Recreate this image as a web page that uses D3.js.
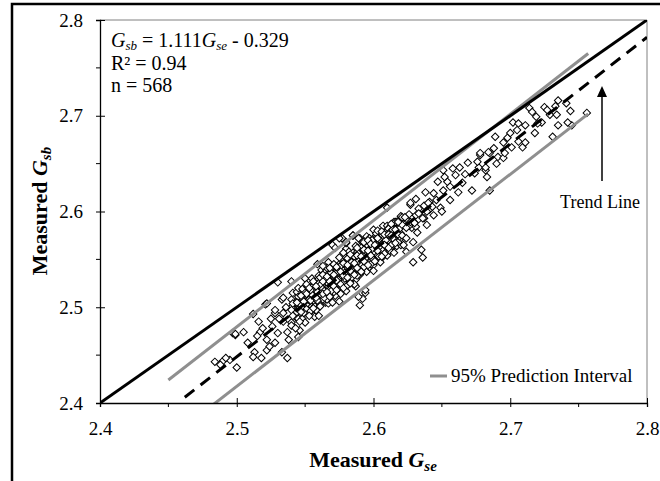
<!DOCTYPE html>
<html>
<head>
<meta charset="utf-8">
<script src="https://cdn.jsdelivr.net/npm/d3@7"></script>
<style>
body { margin: 0; background: #fff; }
text { font-family: "Liberation Serif", "Times New Roman", serif; fill: #000; }
</style>
</head>
<body>
<script>
let w = 660;
let h = 481;

// axis ticks
const xTicks = [2.4, 2.5, 2.6, 2.7, 2.8];
const yTicks = [2.4, 2.5, 2.6, 2.7, 2.8];
const minorTicks = [2.45, 2.55, 2.65, 2.75];

// lines
const unityLine = [2.4, 2.8];
const trendGse = [2.462, 2.8];
const trendGsb = [2.406, 2.782];
const piGse = [2.45, 2.757];
const piUpper = [2.424, 2.765];
const piLower = [2.362, 2.702];

// measured points [Gse, Gsb]
const lowEnd = [
    [2.484,2.443],[2.490,2.444],[2.495,2.445],[2.500,2.437],[2.497,2.473],[2.499,2.471],
    [2.505,2.474],[2.488,2.440],[2.492,2.447]
];
const lowMid = [
    [2.521,2.503],[2.533,2.508],[2.528,2.494],[2.512,2.493],[2.516,2.485],[2.525,2.488],
    [2.526,2.480],[2.534,2.485],[2.540,2.484],[2.543,2.497],[2.541,2.515],[2.499,2.472],
    [2.517,2.474],[2.530,2.473],[2.537,2.474],[2.508,2.463],[2.513,2.453],[2.518,2.447],
    [2.522,2.466],[2.528,2.463],[2.533,2.453],[2.537,2.447],[2.522,2.455],[2.512,2.448],
    [2.545,2.469],[2.546,2.476],[2.545,2.504],[2.540,2.500],[2.530,2.526],[2.540,2.527],
    [2.534,2.510],[2.544,2.516],[2.522,2.504],[2.528,2.497],[2.534,2.494],[2.515,2.470],
    [2.519,2.478],[2.531,2.488],[2.536,2.500],[2.538,2.466],[2.524,2.459]
];
const core = [
    [2.540,2.481],[2.540,2.497],[2.540,2.508],
    [2.543,2.490],[2.543,2.505],[2.543,2.478],
    [2.545,2.498],[2.545,2.488],[2.545,2.511],[2.545,2.520],
    [2.548,2.499],[2.548,2.508],[2.548,2.488],[2.548,2.519],
    [2.550,2.506],[2.550,2.496],[2.550,2.515],[2.550,2.484],[2.550,2.530],
    [2.552,2.501],[2.552,2.514],[2.552,2.493],[2.552,2.521],
    [2.555,2.513],[2.555,2.501],[2.555,2.522],[2.555,2.493],[2.555,2.530],
    [2.557,2.510],[2.557,2.519],[2.557,2.501],[2.557,2.526],[2.557,2.490],
    [2.560,2.516],[2.560,2.509],[2.560,2.525],[2.560,2.500],[2.560,2.533],[2.560,2.491],
    [2.562,2.513],[2.562,2.522],[2.562,2.505],[2.562,2.530],[2.562,2.539],
    [2.565,2.523],[2.565,2.513],[2.565,2.530],[2.565,2.505],[2.565,2.537],[2.565,2.518],
    [2.567,2.522],[2.567,2.529],[2.567,2.513],[2.567,2.535],[2.567,2.504],[2.567,2.547],
    [2.570,2.529],[2.570,2.521],[2.570,2.536],[2.570,2.513],[2.570,2.542],[2.570,2.505],[2.570,2.565],
    [2.572,2.526],[2.572,2.536],[2.572,2.520],[2.572,2.543],[2.572,2.512],[2.572,2.530],
    [2.575,2.532],[2.575,2.540],[2.575,2.525],[2.575,2.545],[2.575,2.518],[2.575,2.552],[2.575,2.506],
    [2.577,2.532],[2.577,2.539],[2.577,2.523],[2.577,2.545],[2.577,2.516],[2.577,2.572],
    [2.580,2.539],[2.580,2.531],[2.580,2.546],[2.580,2.525],[2.580,2.552],[2.580,2.517],[2.580,2.561],[2.580,2.567],
    [2.582,2.536],[2.582,2.544],[2.582,2.531],[2.582,2.552],[2.582,2.525],[2.582,2.558],
    [2.585,2.544],[2.585,2.536],[2.585,2.551],[2.585,2.531],[2.585,2.557],[2.585,2.525],[2.585,2.575],
    [2.587,2.543],[2.587,2.551],[2.587,2.535],[2.587,2.556],[2.587,2.529],[2.587,2.564],[2.587,2.522],
    [2.590,2.552],[2.590,2.545],[2.590,2.558],[2.590,2.538],[2.590,2.563],[2.590,2.534],[2.590,2.572],
    [2.592,2.550],[2.592,2.556],[2.592,2.543],[2.592,2.561],[2.592,2.538],[2.592,2.568],
    [2.595,2.556],[2.595,2.548],[2.595,2.562],[2.595,2.543],[2.595,2.567],[2.595,2.537],[2.595,2.574],
    [2.597,2.553],[2.597,2.560],[2.597,2.547],[2.597,2.566],[2.597,2.542],[2.597,2.572],
    [2.600,2.561],[2.600,2.555],[2.600,2.567],[2.600,2.550],[2.600,2.572],[2.600,2.544],[2.600,2.581],[2.600,2.538],
    [2.602,2.560],[2.602,2.567],[2.602,2.554],[2.602,2.572],[2.602,2.549],[2.602,2.577],
    [2.605,2.567],[2.605,2.559],[2.605,2.573],[2.605,2.554],[2.605,2.578],[2.605,2.547],
    [2.607,2.566],[2.607,2.573],[2.607,2.558],[2.607,2.578],[2.607,2.553],[2.607,2.585],
    [2.610,2.574],[2.610,2.567],[2.610,2.580],[2.610,2.559],[2.610,2.585],[2.610,2.554],[2.610,2.604],
    [2.612,2.570],[2.612,2.578],[2.612,2.565],[2.612,2.584],[2.612,2.559],
    [2.615,2.577],[2.615,2.570],[2.615,2.583],[2.615,2.565],[2.615,2.589],[2.615,2.557],
    [2.617,2.577],[2.617,2.583],[2.617,2.570],[2.617,2.589],[2.617,2.564],
    [2.620,2.584],[2.620,2.577],[2.620,2.590],[2.620,2.572],[2.620,2.595],[2.620,2.565]
];
const coreExtra = [
    [2.541,2.491],[2.541,2.504],[2.546,2.504],[2.546,2.485],[2.551,2.498],[2.551,2.514],[2.551,2.524],
    [2.553,2.508],[2.553,2.494],[2.556,2.507],[2.556,2.522],[2.558,2.517],[2.558,2.497],
    [2.561,2.507],[2.561,2.523],[2.561,2.531],[2.563,2.519],[2.563,2.508],[2.566,2.526],[2.566,2.508],
    [2.566,2.541],[2.568,2.518],[2.568,2.534],[2.571,2.527],[2.571,2.516],[2.571,2.545],[2.573,2.534],
    [2.573,2.523],[2.576,2.530],[2.576,2.543],[2.576,2.514],[2.578,2.538],[2.578,2.526],[2.581,2.537],
    [2.581,2.551],[2.581,2.523],[2.583,2.547],[2.583,2.531],[2.586,2.540],[2.586,2.553],[2.586,2.524],
    [2.588,2.548],[2.588,2.533],[2.591,2.544],[2.591,2.562],[2.593,2.555],[2.593,2.542],[2.593,2.568],
    [2.596,2.553],[2.596,2.564],[2.598,2.562],[2.598,2.545],[2.601,2.557],[2.601,2.571],[2.603,2.565],
    [2.603,2.554],[2.603,2.580],[2.606,2.561],[2.606,2.574],[2.608,2.572],[2.608,2.556],[2.611,2.570],
    [2.611,2.582],[2.613,2.580],[2.613,2.565],[2.616,2.573],[2.616,2.589],[2.618,2.582],[2.618,2.568],
    [2.544,2.495],[2.544,2.505],[2.549,2.506],[2.549,2.494],[2.554,2.507],[2.554,2.518],[2.554,2.496],
    [2.559,2.516],[2.559,2.507],[2.564,2.517],[2.564,2.528],[2.564,2.510],[2.569,2.526],[2.569,2.517],
    [2.569,2.536],[2.574,2.529],[2.574,2.537],[2.579,2.536],[2.579,2.530],[2.579,2.546],[2.584,2.539],
    [2.584,2.547],[2.584,2.531],[2.589,2.548],[2.589,2.540],[2.589,2.556],[2.594,2.551],[2.594,2.559],
    [2.599,2.561],[2.599,2.551],[2.599,2.570],[2.604,2.563],[2.604,2.571],[2.604,2.553],[2.609,2.570],
    [2.609,2.564],[2.614,2.572],[2.614,2.581],[2.619,2.582],[2.619,2.574],[2.624,2.584],[2.624,2.592],
    [2.628,2.594],[2.628,2.583],[2.633,2.592],[2.633,2.603]
];
const coreFill = [
    [2.547,2.495],[2.547,2.512],[2.553,2.520],[2.553,2.491],[2.556,2.499],[2.556,2.527],
    [2.558,2.522],[2.558,2.510],[2.561,2.514],[2.561,2.501],[2.563,2.527],[2.563,2.514],
    [2.563,2.534],[2.566,2.516],[2.566,2.532],[2.568,2.527],[2.568,2.511],[2.568,2.541],
    [2.571,2.534],[2.571,2.522],[2.573,2.518],[2.573,2.542],[2.573,2.528],[2.576,2.537],
    [2.576,2.524],[2.578,2.546],[2.578,2.520],[2.578,2.533],[2.581,2.544],[2.581,2.531],
    [2.583,2.538],[2.583,2.555],[2.583,2.525],[2.586,2.546],[2.586,2.534],[2.588,2.554],
    [2.588,2.541],[2.588,2.562],[2.591,2.553],[2.591,2.537],[2.593,2.548],[2.593,2.560],
    [2.596,2.559],[2.596,2.544],[2.596,2.570],[2.598,2.554],[2.598,2.566],[2.601,2.565],
    [2.601,2.548],[2.603,2.559],[2.603,2.572],[2.606,2.579],[2.606,2.553],[2.608,2.576],
    [2.608,2.565],[2.611,2.562],[2.611,2.576],[2.613,2.575],[2.613,2.587],[2.616,2.567],
    [2.616,2.581],[2.618,2.576],[2.618,2.590],[2.621,2.586],[2.621,2.575],[2.626,2.585],
    [2.626,2.597],[2.631,2.596],[2.631,2.584],[2.637,2.606],[2.637,2.593]
];
const outliers = [
    [2.572,2.562],[2.575,2.572],[2.580,2.568],[2.589,2.572],[2.578,2.557],[2.585,2.575],
    [2.559,2.545],[2.563,2.543],[2.590,2.502],[2.592,2.509],[2.594,2.515],[2.589,2.511],[2.594,2.518]
];
const upperMid = [
    [2.622,2.565],[2.624,2.572],[2.629,2.568],[2.624,2.583],[2.627,2.589],[2.630,2.588],
    [2.636,2.593],[2.639,2.586],[2.621,2.594],[2.618,2.589],[2.627,2.607],[2.641,2.602],
    [2.641,2.610],[2.638,2.620],[2.624,2.558],[2.629,2.547],[2.636,2.552],[2.635,2.560],
    [2.623,2.594],[2.627,2.609],[2.640,2.609],[2.643,2.605],[2.639,2.600],[2.644,2.596],
    [2.649,2.604],[2.650,2.600],[2.644,2.619],[2.651,2.622],[2.656,2.612],[2.656,2.626],
    [2.654,2.631],[2.647,2.631],[2.652,2.636],[2.660,2.638],[2.651,2.643],[2.658,2.645],
    [2.663,2.646],[2.669,2.651],[2.674,2.640],[2.672,2.622],[2.665,2.630],[2.683,2.636],
    [2.682,2.643],[2.677,2.646],[2.678,2.659],[2.685,2.661],[2.676,2.652],[2.685,2.622],
    [2.632,2.578],[2.633,2.598],[2.646,2.612],[2.662,2.620],[2.667,2.639],[2.631,2.613]
];
const highEnd = [
    [2.735,2.716],[2.741,2.713],[2.744,2.705],[2.745,2.690],[2.735,2.690],[2.731,2.678],
    [2.729,2.701],[2.725,2.709],[2.723,2.693],[2.720,2.692],[2.734,2.701],[2.714,2.708],
    [2.716,2.704],[2.702,2.693],[2.706,2.692],[2.711,2.690],[2.705,2.685],[2.698,2.677],
    [2.689,2.678],[2.706,2.673],[2.709,2.667],[2.695,2.672],[2.701,2.667],[2.684,2.662],
    [2.678,2.661],[2.691,2.657],[2.695,2.656],[2.682,2.646],[2.727,2.706],[2.742,2.693],
    [2.733,2.710],[2.756,2.703],[2.711,2.672],[2.690,2.650],[2.696,2.661],[2.719,2.699],
    [2.700,2.682],[2.688,2.666],[2.718,2.682]
];
let measured = [].concat(lowEnd, lowMid, core, coreExtra, coreFill, outliers, upperMid, highEnd);

let x = d3.scaleLinear().domain([2.4, 2.8]).range([100, 647]);
let y = d3.scaleLinear().domain([2.4, 2.8]).range([403, 20]);

let svg = d3.select("body")
    .append("svg")
    .attr("width", w)
    .attr("height", h);

// outer frame (runs off the right and bottom)
svg.append("rect")
    .attr("x", 12).attr("y", 4)
    .attr("width", 700).attr("height", 520)
    .attr("fill", "none")
    .attr("stroke", "#000")
    .attr("stroke-width", 2.5);

svg.append("clipPath").attr("id", "plotclip")
    .append("rect")
    .attr("x", x(2.4)).attr("y", y(2.8))
    .attr("width", x(2.8) - x(2.4)).attr("height", y(2.4) - y(2.8));

// top and right border of the plot area
svg.append("path")
    .attr("d", "M" + x(2.4) + "," + y(2.8) + "H" + x(2.8) + "V" + y(2.4))
    .attr("fill", "none")
    .attr("stroke", "#808080")
    .attr("stroke-width", 1);

// points
let diamond = d3.symbol().type(d3.symbolSquare).size(28);
svg.append("g")
    .selectAll("path")
    .data(measured)
    .enter().append("path")
    .attr("d", diamond)
    .attr("transform", (d) => "translate(" + x(d[0]) + "," + y(d[1]) + ") rotate(45)")
    .attr("fill", "#fff")
    .attr("stroke", "#000")
    .attr("stroke-width", 1);

let lines = svg.append("g").attr("clip-path", "url(#plotclip)");
let line = d3.line().x((d) => x(d[0])).y((d) => y(d[1]));

lines.append("path")
    .attr("d", line(piGse.map((g, i) => [g, piUpper[i]])))
    .attr("stroke", "#8f8f8f").attr("stroke-width", 3).attr("fill", "none");
lines.append("path")
    .attr("d", line(piGse.map((g, i) => [g, piLower[i]])))
    .attr("stroke", "#8f8f8f").attr("stroke-width", 3).attr("fill", "none");
lines.append("path")
    .attr("d", line(trendGse.map((g, i) => [g, trendGsb[i]])))
    .attr("stroke", "#000").attr("stroke-width", 3).attr("fill", "none")
    .attr("stroke-dasharray", "12,8");
lines.append("path")
    .attr("d", line(unityLine.map((g) => [g, g])))
    .attr("stroke", "#000").attr("stroke-width", 3).attr("fill", "none");

// axes
let yAxis = svg.append("g").attr("transform", "translate(" + x(2.4) + ",0)");
yAxis.call(d3.axisLeft(y).tickValues(yTicks).tickSize(4).tickFormat(d3.format(".1f")));
yAxis.selectAll(".tick line").clone().attr("x2", 5);
yAxis.selectAll(".tick text").attr("x", -17).attr("font-size", 19).attr("font-family", "Liberation Serif");
yAxis.append("g").selectAll("line").data(minorTicks).enter().append("line")
    .attr("x1", -4).attr("x2", 0).attr("y1", (d) => y(d)).attr("y2", (d) => y(d))
    .attr("stroke", "#000");

let xAxis = svg.append("g").attr("transform", "translate(0," + y(2.4) + ")");
xAxis.call(d3.axisBottom(x).tickValues(xTicks).tickSize(4).tickFormat(d3.format(".1f")));
xAxis.selectAll(".tick line").clone().attr("y2", -5);
xAxis.selectAll(".tick text").attr("y", 19).attr("font-size", 19).attr("font-family", "Liberation Serif");
xAxis.append("g").selectAll("line").data(minorTicks).enter().append("line")
    .attr("y1", 0).attr("y2", 4).attr("x1", (d) => x(d)).attr("x2", (d) => x(d))
    .attr("stroke", "#000");
svg.selectAll(".domain").attr("stroke-width", 1.3);

// axis titles
let xt = svg.append("text")
    .attr("x", 373).attr("y", 467)
    .attr("text-anchor", "middle")
    .attr("font-size", 22).attr("font-weight", "bold");
xt.append("tspan").text("Measured ");
xt.append("tspan").attr("font-style", "italic").text("G");
xt.append("tspan").attr("font-style", "italic").attr("font-size", 15).attr("dy", 4).text("se");

let yt = svg.append("text")
    .attr("transform", "translate(47,211) rotate(-90)")
    .attr("text-anchor", "middle")
    .attr("font-size", 22).attr("font-weight", "bold");
yt.append("tspan").text("Measured ");
yt.append("tspan").attr("font-style", "italic").text("G");
yt.append("tspan").attr("font-style", "italic").attr("font-size", 15).attr("dy", 4).text("sb");

// equation
let eq = svg.append("text").attr("x", 111).attr("y", 47).attr("font-size", 20);
eq.append("tspan").attr("font-style", "italic").text("G");
eq.append("tspan").attr("font-style", "italic").attr("font-size", 13).attr("dy", 3).text("sb");
eq.append("tspan").attr("dy", -3).text(" = 1.111");
eq.append("tspan").attr("font-style", "italic").text("G");
eq.append("tspan").attr("font-style", "italic").attr("font-size", 13).attr("dy", 3).text("se");
eq.append("tspan").attr("dy", -3).text(" - 0.329");
svg.append("text").attr("x", 111).attr("y", 70).attr("font-size", 20).text("R² = 0.94");
svg.append("text").attr("x", 111).attr("y", 92).attr("font-size", 20).text("n = 568");

// trend line callout
svg.append("text").attr("x", 600).attr("y", 208).attr("text-anchor", "middle")
    .attr("font-size", 18).text("Trend Line");
svg.append("line").attr("x1", 602).attr("x2", 602).attr("y1", 181).attr("y2", 94)
    .attr("stroke", "#000").attr("stroke-width", 1.5);
svg.append("path").attr("d", "M602,86L597,97L607,97Z").attr("fill", "#000");

// legend
svg.append("line").attr("x1", 430).attr("x2", 447).attr("y1", 376).attr("y2", 376)
    .attr("stroke", "#8f8f8f").attr("stroke-width", 3);
svg.append("text").attr("x", 451).attr("y", 382).attr("font-size", 19)
    .text("95% Prediction Interval");
</script>
</body>
</html>
